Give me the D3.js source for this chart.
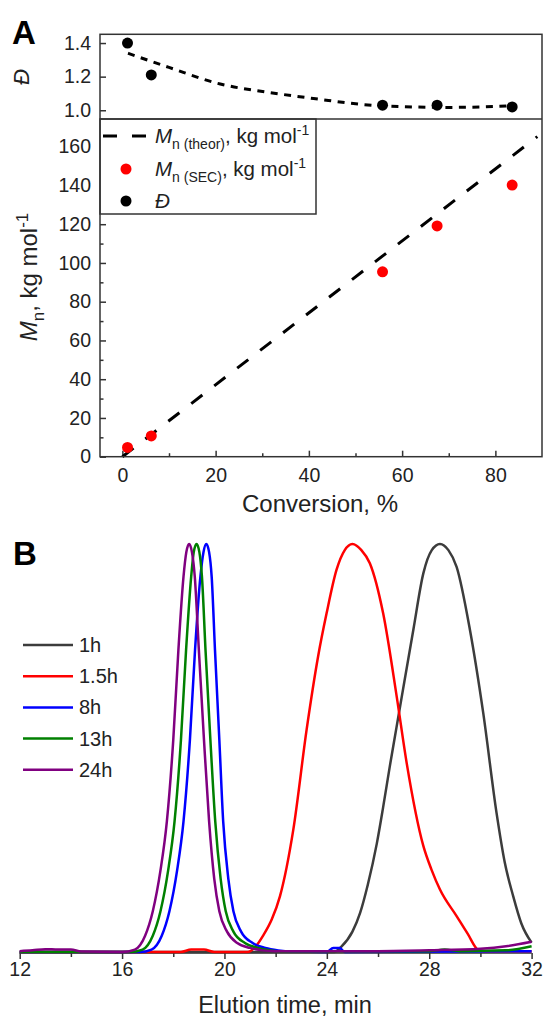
<!DOCTYPE html>
<meta charset="utf-8">
<title>Conversion and SEC traces</title>
<body>
<script src="https://cdn.jsdelivr.net/npm/d3@7"></script>
<style>
  html, body {
    margin: 0;
    background: #fff;
  }
  svg { display: block; }
</style>
<script>
  // ---- panel A: Mn and dispersity vs conversion ----
  var conversion = [1.1, 6.2, 55.8, 67.5, 83.6];       // %
  var mnSEC      = [4.8, 10.7, 95.4, 119.1, 140.2];    // kg/mol
  var dispersity = [1.40, 1.21, 1.03, 1.03, 1.02];
  var mnTheor    = [[0, 0], [89, 165.2]];              // theoretical line
  var dispFit    = [[1.2, 1.339], [10, 1.255], [21, 1.156], [31, 1.108], [41, 1.07],
                    [55, 1.027], [70, 1.017], [83.6, 1.026]];

  var convTicks  = [0, 20, 40, 60, 80],  convMinor = [10, 30, 50, 70];
  var mnTicks    = [0, 20, 40, 60, 80, 100, 120, 140, 160];
  var mnMinor    = [10, 30, 50, 70, 90, 110, 130, 150, 170];
  var dispTicks  = [1.0, 1.2, 1.4];

  // ---- panel B: SEC traces, [elution time (min), normalised signal] ----
  var trace1h = [[12, 0], [24.3, 0], [24.55, 0.012], [25.0, 0.05], [25.3, 0.096], [25.6, 0.165],
    [25.95, 0.265], [26.2, 0.355], [26.46, 0.455], [26.72, 0.55], [26.98, 0.645], [27.38, 0.79],
    [27.77, 0.928], [28.1, 0.985], [28.42, 1.0], [28.75, 0.985], [29.07, 0.944], [29.59, 0.79],
    [30.11, 0.586], [30.63, 0.341], [30.95, 0.22], [31.28, 0.137], [31.6, 0.07], [32, 0.023]];
  var trace1_5h = [[12, 0], [18.3, 0], [18.7, 0.006], [19.2, 0.006], [19.6, 0], [20.9, 0],
    [21.2, 0.012], [21.51, 0.04], [21.85, 0.08], [22.17, 0.137], [22.69, 0.30], [23.21, 0.545],
    [23.66, 0.725], [23.99, 0.83], [24.38, 0.937], [24.7, 0.985], [25.0, 1.0], [25.35, 0.985],
    [25.68, 0.953], [26.2, 0.83], [26.73, 0.626], [27.12, 0.463], [27.77, 0.26], [28.1, 0.2],
    [28.42, 0.153], [29.07, 0.088], [29.5, 0.045], [29.92, 0.005], [30.2, 0.002], [32, 0.002]];
  var trace8h = [[12, 0], [16.7, 0], [17.15, 0.006], [17.55, 0.04], [17.85, 0.10], [18.15, 0.20],
    [18.4, 0.32], [18.65, 0.52], [18.85, 0.74], [19.06, 0.92], [19.18, 0.98], [19.29, 1.0],
    [19.4, 0.98], [19.5, 0.92], [19.63, 0.74], [19.8, 0.52], [19.95, 0.32], [20.15, 0.18],
    [20.35, 0.10], [20.65, 0.05], [21.1, 0.022], [21.6, 0.01], [22.1, 0.004], [22.6, 0.001],
    [24.0, 0], [24.25, 0.01], [24.5, 0.01], [24.7, 0], [32, 0.002]];
  var trace13h = [[12, 0], [16.3, 0], [16.8, 0.006], [17.2, 0.04], [17.5, 0.10], [17.8, 0.20],
    [18.05, 0.32], [18.3, 0.52], [18.5, 0.74], [18.7, 0.92], [18.8, 0.98], [18.91, 1.0],
    [19.02, 0.98], [19.12, 0.92], [19.26, 0.74], [19.45, 0.52], [19.64, 0.32], [19.85, 0.18],
    [20.05, 0.10], [20.35, 0.05], [20.8, 0.022], [21.3, 0.01], [21.8, 0.004], [22.3, 0.001],
    [28, 0.002], [28.6, 0.006], [29.2, 0.002], [31, 0.004], [32, 0.014]];
  var trace24h = [[12, 0.002], [12.5, 0.004], [13, 0.007], [13.5, 0.006], [14, 0.006], [14.4, 0.001],
    [16.0, 0], [16.5, 0.006], [16.9, 0.04], [17.2, 0.10], [17.5, 0.20], [17.75, 0.32], [18.0, 0.52],
    [18.2, 0.74], [18.4, 0.92], [18.51, 0.98], [18.62, 1.0], [18.73, 0.98], [18.84, 0.92],
    [19.0, 0.74], [19.2, 0.52], [19.4, 0.32], [19.6, 0.18], [19.8, 0.10], [20.1, 0.05],
    [20.5, 0.022], [21.0, 0.01], [21.5, 0.004], [22.0, 0.002], [26, 0.002], [28, 0.004],
    [30, 0.008], [31, 0.014], [32, 0.025]];

  var traceNames  = ["1h", "1.5h", "8h", "13h", "24h"];
  var traceColors = ["#3c3c3c", "#ff0000", "#0000ff", "#008000", "#800080"];
  var traces      = [trace1h, trace1_5h, trace8h, trace13h, trace24h];
  var timeTicks   = [12, 16, 20, 24, 28, 32],  timeMinor = [14, 18, 22, 26, 30];

  var font = '"Liberation Sans", Arial, Helvetica, sans-serif';
  var ink = "#333";

  var svg = d3.select("body").append("svg")
    .attr("width", 543)
    .attr("height", 1020)
    .style("font-family", font);

  function styleAxis(g) {
    g.attr("font-size", 19.5).attr("font-family", font);
    g.select(".domain").remove();
    g.selectAll(".tick line").attr("stroke", ink).attr("stroke-width", 1.5);
    g.selectAll(".tick text").attr("fill", "#222");
  }

  /* ---------------- panel A ---------------- */
  var x  = d3.scaleLinear().domain([-4.8, 90]).range([100, 542]);
  var yD = d3.scaleLinear().domain([0.948, 1.452]).range([119, 34.3]);
  var yM = d3.scaleLinear().domain([0, 174.3]).range([456.7, 119]);

  // axes (inward ticks)
  svg.append("g").attr("transform", "translate(100,0)")
    .call(d3.axisLeft(yM).tickValues(mnTicks).tickSize(-6).tickPadding(9)).call(styleAxis);
  svg.append("g").attr("transform", "translate(100,0)")
    .call(d3.axisLeft(yM).tickValues(mnMinor).tickSize(-3.5).tickFormat("")).call(styleAxis);
  svg.append("g").attr("transform", "translate(100,0)")
    .call(d3.axisLeft(yD).tickValues(dispTicks).tickSize(-6).tickPadding(9)
      .tickFormat(d3.format(".1f"))).call(styleAxis);
  svg.append("g").attr("transform", "translate(0,456.7)")
    .call(d3.axisBottom(x).tickValues(convTicks).tickSize(-6).tickPadding(11.5)).call(styleAxis);
  svg.append("g").attr("transform", "translate(0,456.7)")
    .call(d3.axisBottom(x).tickValues(convMinor).tickSize(-3.5).tickFormat("")).call(styleAxis);

  // theoretical Mn
  svg.append("path")
    .datum(mnTheor)
    .attr("fill", "none")
    .attr("stroke", "#000")
    .attr("stroke-width", 3)
    .attr("stroke-dasharray", "14,15")
    .attr("d", d3.line().x(function(d) { return x(d[0]); }).y(function(d) { return yM(d[1]); }));

  // dispersity fit
  svg.append("path")
    .datum(dispFit)
    .attr("fill", "none")
    .attr("stroke", "#000")
    .attr("stroke-width", 3)
    .attr("stroke-dasharray", "7,6.5")
    .attr("d", d3.line().curve(d3.curveMonotoneX)
      .x(function(d) { return x(d[0]); }).y(function(d) { return yD(d[1]); }));

  svg.append("g").selectAll("circle")
    .data(conversion)
    .enter().append("circle")
    .attr("cx", function(d) { return x(d); })
    .attr("cy", function(d, i) { return yD(dispersity[i]); })
    .attr("r", 5.5)
    .attr("fill", "#000");

  svg.append("g").selectAll("circle")
    .data(conversion)
    .enter().append("circle")
    .attr("cx", function(d) { return x(d); })
    .attr("cy", function(d, i) { return yM(mnSEC[i]); })
    .attr("r", 5.5)
    .attr("fill", "#ff0000");

  // legend
  var leg = svg.append("g");
  leg.append("rect")
    .attr("x", 100).attr("y", 119).attr("width", 216).attr("height", 95)
    .attr("fill", "#fff").attr("stroke", ink).attr("stroke-width", 1.5);
  leg.append("line")
    .attr("x1", 103).attr("x2", 146).attr("y1", 136).attr("y2", 136)
    .attr("stroke", "#000").attr("stroke-width", 3).attr("stroke-dasharray", "14,15");
  leg.append("circle").attr("cx", 126).attr("cy", 169).attr("r", 5.5).attr("fill", "#ff0000");
  leg.append("circle").attr("cx", 126).attr("cy", 201).attr("r", 5.5).attr("fill", "#000");

  function mnLabel(sel, sub, size, subSize) {
    sel.append("tspan").attr("font-style", "italic").text("M");
    sel.append("tspan").attr("font-size", subSize).attr("dy", size * 0.28).text(sub);
    sel.append("tspan").attr("dy", -size * 0.28).text(", kg mol");
    sel.append("tspan").attr("font-size", subSize).attr("dy", -size * 0.38).text("-1");
  }
  var t1 = leg.append("text").attr("x", 155).attr("y", 143).attr("font-size", 20.5).attr("fill", "#222");
  mnLabel(t1, "n (theor)", 20.5, 14);
  var t2 = leg.append("text").attr("x", 155).attr("y", 176).attr("font-size", 20.5).attr("fill", "#222");
  mnLabel(t2, "n (SEC)", 20.5, 14);
  leg.append("text").attr("x", 155).attr("y", 208).attr("font-size", 20.5).attr("fill", "#222")
    .attr("font-style", "italic").text("Đ");

  // frames
  svg.append("rect")
    .attr("x", 100).attr("y", 34.3).attr("width", 442).attr("height", 422.4)
    .attr("fill", "none").attr("stroke", ink).attr("stroke-width", 1.5);
  svg.append("line")
    .attr("x1", 100).attr("x2", 542).attr("y1", 119).attr("y2", 119)
    .attr("stroke", ink).attr("stroke-width", 1.5);

  // axis titles
  var yt = svg.append("text")
    .attr("transform", "translate(37,277) rotate(-90)")
    .attr("text-anchor", "middle")
    .attr("font-size", 24)
    .attr("fill", "#222");
  mnLabel(yt, "n", 24, 17);
  svg.append("text")
    .attr("transform", "translate(29,77) rotate(-90)")
    .attr("text-anchor", "middle")
    .attr("font-size", 22)
    .attr("font-style", "italic")
    .attr("fill", "#222")
    .text("Đ");
  svg.append("text")
    .attr("x", 320).attr("y", 512)
    .attr("text-anchor", "middle")
    .attr("font-size", 24)
    .attr("fill", "#222")
    .text("Conversion, %");

  svg.append("text").attr("x", 12).attr("y", 44)
    .attr("font-size", 33).attr("font-weight", "bold").text("A");

  /* ---------------- panel B ---------------- */
  var xB = d3.scaleLinear().domain([12, 32]).range([19.7, 531.6]);
  var yB = d3.scaleLinear().domain([0, 1]).range([952, 544]);

  var gx = svg.append("g").attr("transform", "translate(0,953)")
    .call(d3.axisBottom(xB).tickValues(timeTicks).tickSize(6).tickSizeOuter(0).tickPadding(3));
  styleAxis(gx);
  gx.append("line").attr("x1", xB(12)).attr("x2", xB(32))
    .attr("stroke", ink).attr("stroke-width", 1.5);
  svg.append("g").attr("transform", "translate(0,953)")
    .call(d3.axisBottom(xB).tickValues(timeMinor).tickSize(4).tickFormat("")).call(styleAxis);

  var lineB = d3.line().curve(d3.curveMonotoneX)
    .x(function(d) { return xB(d[0]); })
    .y(function(d) { return yB(d[1]); });

  svg.append("g").selectAll("path")
    .data(traces)
    .enter().append("path")
    .attr("fill", "none")
    .attr("stroke", function(d, i) { return traceColors[i]; })
    .attr("stroke-width", 2.5)
    .attr("stroke-linejoin", "round")
    .attr("d", lineB);

  var legB = svg.append("g").selectAll("g")
    .data(traceNames)
    .enter().append("g")
    .attr("transform", function(d, i) { return "translate(0," + (645 + i * 31.2) + ")"; });
  legB.append("line")
    .attr("x1", 23).attr("x2", 73)
    .attr("stroke", function(d, i) { return traceColors[i]; })
    .attr("stroke-width", 2.5);
  legB.append("text")
    .attr("x", 79).attr("y", 7)
    .attr("font-size", 20)
    .attr("fill", "#222")
    .text(function(d) { return d; });

  svg.append("text")
    .attr("x", 285).attr("y", 1013)
    .attr("text-anchor", "middle")
    .attr("font-size", 23.5)
    .attr("fill", "#222")
    .text("Elution time, min");

  svg.append("text").attr("x", 13).attr("y", 565)
    .attr("font-size", 33).attr("font-weight", "bold").text("B");
</script>
